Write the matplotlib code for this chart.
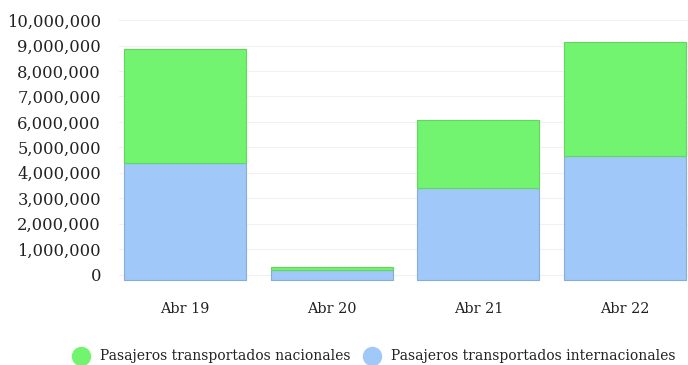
import matplotlib; matplotlib.use("Agg")
import matplotlib.pyplot as plt
from matplotlib.transforms import ScaledTranslation
from matplotlib.lines import Line2D
from matplotlib.ticker import FuncFormatter

plt.rcParams["font.family"] = "DejaVu Serif"

months = ["Abr 19", "Abr 20", "Abr 21", "Abr 22"]
internacionales = [4.61e6, 0.39e6, 3.62e6, 4.88e6]
nacionales = [4.45e6, 0.12e6, 2.68e6, 4.49e6]

GREEN, BLUE = "#72f470", "#a0c8f8"
GREEN_E, BLUE_E = "#5fd85d", "#86acd8"
INK = "#222222"

fig = plt.figure(figsize=(6.88, 3.65), dpi=100)
ax = fig.add_axes([0.173, 0.227, 0.827, 0.725])
x = range(len(months))
b1 = ax.bar(x, internacionales, width=0.83, color=BLUE, edgecolor=BLUE_E, lw=0.8, zorder=3)
b2 = ax.bar(x, nacionales, bottom=internacionales, width=0.83, color=GREEN, edgecolor=GREEN_E, lw=0.8, zorder=3)
# slight downward offset mimicking the pseudo-3D base of the original
off = ax.transData + ScaledTranslation(0, -0.055, fig.dpi_scale_trans)
for p in list(b1) + list(b2):
    p.set_transform(off); p.set_clip_on(False); p.set_joinstyle("round")

ax.set_xlim(-0.45, 3.43); ax.set_ylim(-0.3e6, 10.1e6)
ax.set_yticks([i * 1e6 for i in range(11)])
ax.yaxis.set_major_formatter(FuncFormatter(lambda v, _: f"{v:,.0f}"))
ax.set_xticks(list(x)); ax.set_xticklabels(months)
ax.tick_params(axis="y", length=0, pad=13, labelsize=11.8, labelcolor=INK)
ax.tick_params(axis="x", length=0, pad=14, labelsize=10.4, labelcolor=INK)
ax.grid(axis="y", color="#f1f1f1", lw=0.8, zorder=0)
for s in ax.spines.values(): s.set_visible(False)

handles = [Line2D([], [], marker="o", ls="", ms=13, color=GREEN, mec=GREEN),
           Line2D([], [], marker="o", ls="", ms=13, color=BLUE, mec=BLUE)]
fig.legend(handles, ["Pasajeros transportados nacionales", "Pasajeros transportados internacionales"],
           loc="lower center", bbox_to_anchor=(0.54, -0.03), ncol=2, frameon=False,
           fontsize=10, handletextpad=0.35, columnspacing=0.55, labelcolor=INK)

fig.savefig("out.png", dpi=100, facecolor="white")
